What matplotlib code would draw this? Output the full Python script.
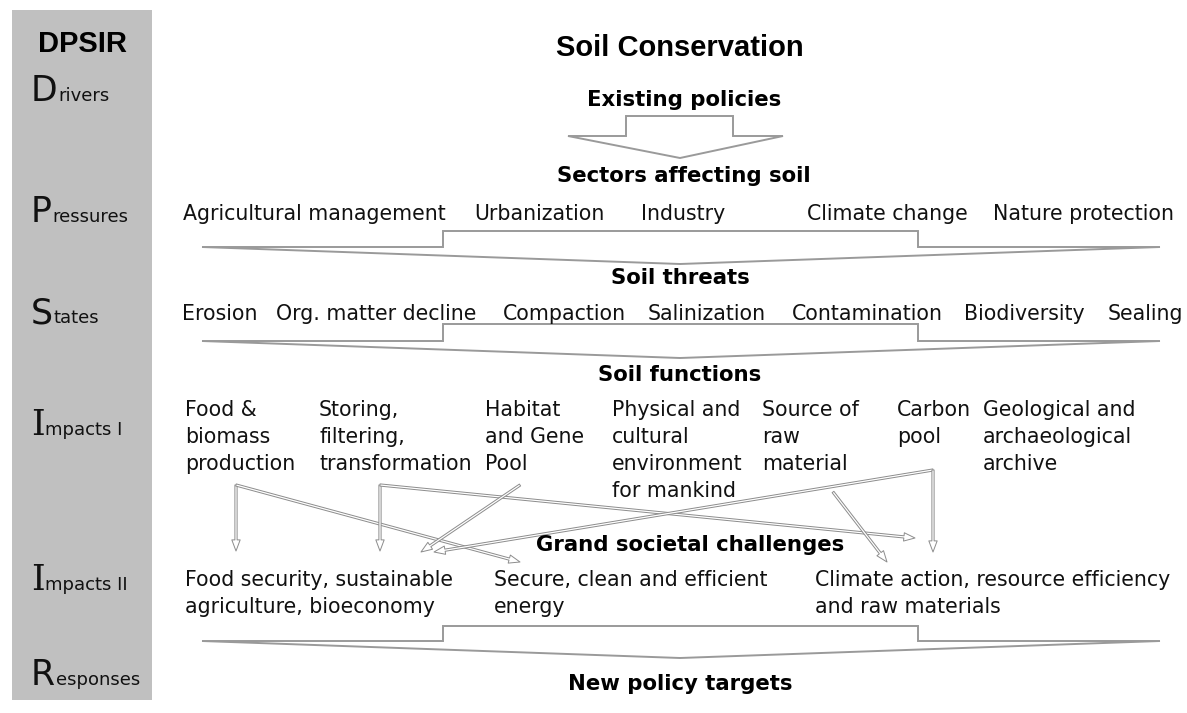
import matplotlib
matplotlib.use("Agg")
import matplotlib.pyplot as plt
from matplotlib.patches import Polygon, Rectangle, FancyArrowPatch, ArrowStyle

# ---- content ----
title = "Soil Conservation"
panel_title = "DPSIR"
dpsir_big = ["D", "P", "S", "I", "I", "R"]
dpsir_rest = ["rivers", "ressures", "tates", "mpacts I", "mpacts II", "esponses"]
headers = ["Existing policies", "Sectors affecting soil", "Soil threats",
           "Soil functions", "Grand societal challenges", "New policy targets"]
pressures = ["Agricultural management", "Urbanization", "Industry",
             "Climate change", "Nature protection"]
threats = ["Erosion", "Org. matter decline", "Compaction", "Salinization",
           "Contamination", "Biodiversity", "Sealing"]
functions = ["Food &\nbiomass\nproduction", "Storing,\nfiltering,\ntransformation",
             "Habitat\nand Gene\nPool", "Physical and\ncultural\nenvironment\nfor mankind",
             "Source of\nraw\nmaterial", "Carbon\npool",
             "Geological and\narchaeological\narchive"]
challenges = ["Food security, sustainable\nagriculture, bioeconomy",
              "Secure, clean and efficient\nenergy",
              "Climate action, resource efficiency\nand raw materials"]
# links: (function index, challenge index)
links = [(0, 0), (0, 1), (1, 0), (1, 2), (2, 0), (5, 0), (5, 2), (4, 2)]

# ---- layout ----
W, H = 1187, 713
fig = plt.figure(figsize=(W / 100, H / 100), dpi=100)
ax = fig.add_axes([0, 0, 1, 1])
ax.set_xlim(0, W)
ax.set_ylim(H, 0)
ax.axis("off")

BODY = dict(family="DejaVu Sans", fontsize=14.8, color="#111111")
BOLD = dict(family="DejaVu Sans", fontsize=15.3, weight="bold", color="black")

ax.add_patch(Rectangle((12, 10), 140, 690, facecolor="#c0c0c0", edgecolor="none", zorder=0))
ax.text(82, 44, panel_title, ha="center", va="center", family="Liberation Sans",
        fontsize=21, weight="bold")
ax.text(680, 48, title, ha="center", va="center", family="Liberation Sans",
        fontsize=21, weight="bold")

fig.canvas.draw()
renderer = fig.canvas.get_renderer()
label_base = [101, 222, 323, 435, 590, 685]
for big, rest, yb in zip(dpsir_big, dpsir_rest, label_base):
    fam = "DejaVu Serif" if big == "I" else "DejaVu Sans"
    t = ax.text(31, yb, big, ha="left", va="baseline", family=fam, fontsize=25,
                color="#111111")
    bb = t.get_window_extent(renderer)
    x1 = ax.transData.inverted().transform((bb.x1, bb.y0))[0]
    ax.text(x1 + 0.5, yb, rest, ha="left", va="baseline", family="DejaVu Sans",
            fontsize=13, color="#111111")

hdr_pos = [(684, 100), (684, 176), (680, 278), (680, 375), (690, 545), (680, 684)]
for h, (x, y) in zip(headers, hdr_pos):
    ax.text(x, y, h, ha="center", va="center", zorder=3, **BOLD)

for s, x in zip(pressures, [183, 474, 641, 807, 993]):
    ax.text(x, 214, s, ha="left", va="center", zorder=3, **BODY)
for s, x in zip(threats, [182, 276, 503, 648, 792, 964, 1108]):
    ax.text(x, 314, s, ha="left", va="center", zorder=3, **BODY)
for s, x in zip(functions, [185, 319, 485, 612, 762, 897, 983]):
    ax.text(x, 400, s, ha="left", va="top", linespacing=1.43, zorder=3, **BODY)
for s, x in zip(challenges, [185, 494, 815]):
    ax.text(x, 570, s, ha="left", va="top", linespacing=1.43, zorder=3, **BODY)

EDGE = "#9a9a9a"

def funnel(xl, xs1, xs2, xr, ytop, ywing, xtip, ytip):
    pts = [(xl, ywing), (xs1, ywing), (xs1, ytop), (xs2, ytop), (xs2, ywing),
           (xr, ywing), (xtip, ytip)]
    ax.add_patch(Polygon(pts, closed=True, facecolor="white", edgecolor=EDGE,
                         lw=1.4, zorder=1, joinstyle="miter"))

funnel(568, 626, 733, 783, 116, 136, 680, 158)
funnel(202, 443, 918, 1160, 231, 247, 680, 264)
funnel(202, 443, 918, 1160, 324, 341, 680, 358)
funnel(202, 443, 918, 1160, 626, 641, 680, 658)

# arrow anchor points
f_anchor = [(236, 485), (380, 485), (520, 485), (700, 495), (833, 492), (933, 470), (1000, 480)]
c_targets = {(0, 0): (236, 551), (0, 1): (520, 562), (1, 0): (380, 551),
             (1, 2): (915, 538), (2, 0): (421, 552), (5, 0): (434, 552),
             (5, 2): (933, 552), (4, 2): (887, 562)}
style = ArrowStyle.Simple(head_length=8, head_width=6, tail_width=1.6)
for fi, ci in links:
    start = f_anchor[fi]
    end = c_targets[(fi, ci)]
    ax.add_patch(FancyArrowPatch(start, end, arrowstyle=style, mutation_scale=1,
                                 facecolor="white", edgecolor="#8c8c8c", lw=0.7,
                                 shrinkA=0, shrinkB=0, zorder=2))

fig.savefig("out.png", dpi=100)
